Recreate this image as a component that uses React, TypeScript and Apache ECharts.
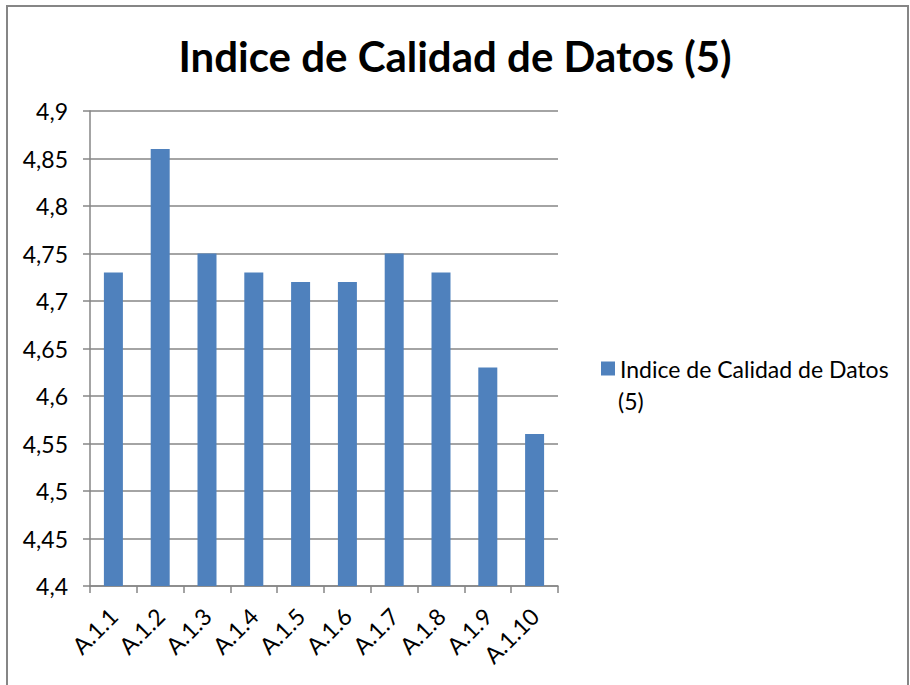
import React, { useEffect, useRef } from "react";
import * as echarts from "echarts";

const categories = ["A.1.1", "A.1.2", "A.1.3", "A.1.4", "A.1.5", "A.1.6", "A.1.7", "A.1.8", "A.1.9", "A.1.10"];
const values = [4.73, 4.86, 4.75, 4.73, 4.72, 4.72, 4.75, 4.73, 4.63, 4.56];
const seriesName = "Indice de Calidad de Datos (5)";
const titleText = "Indice de Calidad de Datos (5)";
const legendLine1 = "Indice de Calidad de Datos";
const legendLine2 = "(5)";

const FONT = "Lato, 'Noto Sans', sans-serif";

export default function App() {
  const ref = useRef<HTMLDivElement>(null);
  useEffect(() => {
    if (!ref.current) return;
    const chart = echarts.init(ref.current, undefined, { renderer: "svg" });
    chart.setOption({
      animation: false,
      backgroundColor: "#ffffff",
      textStyle: { fontFamily: FONT },
      title: {
        text: titleText,
        left: "center",
        top: 30,
        textStyle: { fontSize: 42, fontWeight: "bold", color: "#000", fontFamily: FONT },
      },
      graphic: [
        {
          type: "rect",
          shape: { x: 7, y: 6, width: 901, height: 700 },
          style: { fill: "none", stroke: "#868686", lineWidth: 2 },
          silent: true,
        },
        {
          type: "text",
          left: 618,
          top: 389,
          style: { text: legendLine2, fontSize: 23, fill: "#000", fontFamily: FONT },
          silent: true,
        },
      ],
      legend: {
        left: 596,
        top: 352,
        orient: "vertical",
        icon: "rect",
        itemWidth: 14,
        itemHeight: 14,
        itemGap: 6,
        formatter: () => legendLine1,
        textStyle: { fontSize: 23, color: "#000", fontFamily: FONT },
        data: [seriesName],
      },
      grid: { left: 90, right: 352, top: 111, bottom: 99, containLabel: false },
      xAxis: {
        type: "category",
        data: categories,
        axisLine: { show: true, lineStyle: { color: "#868686", width: 1.5 } },
        axisTick: { show: true, length: 7, lineStyle: { color: "#868686", width: 1.5 } },
        axisLabel: { rotate: 45, fontSize: 23, color: "#000", margin: 26, fontFamily: FONT, interval: 0 },
      },
      yAxis: {
        type: "value",
        min: 4.4,
        max: 4.9,
        interval: 0.05,
        axisLine: { show: true, lineStyle: { color: "#868686", width: 1.5 } },
        axisTick: { show: true, length: 7, lineStyle: { color: "#868686", width: 1.5 } },
        splitLine: { show: true, lineStyle: { color: "#868686", width: 1.5 } },
        axisLabel: {
          fontSize: 23,
          color: "#000",
          margin: 22,
          fontFamily: FONT,
          formatter: (v: number) => String(parseFloat(v.toFixed(2))).replace(".", ","),
        },
      },
      series: [
        {
          name: seriesName,
          type: "bar",
          data: values,
          barWidth: 19,
          itemStyle: { color: "#4F81BD" },
        },
      ],
    });
    return () => chart.dispose();
  }, []);
  return (
    <div
      ref={ref}
      style={{ position: "absolute", left: 0, top: 0, width: 910, height: 685 }}
    />
  );
}
